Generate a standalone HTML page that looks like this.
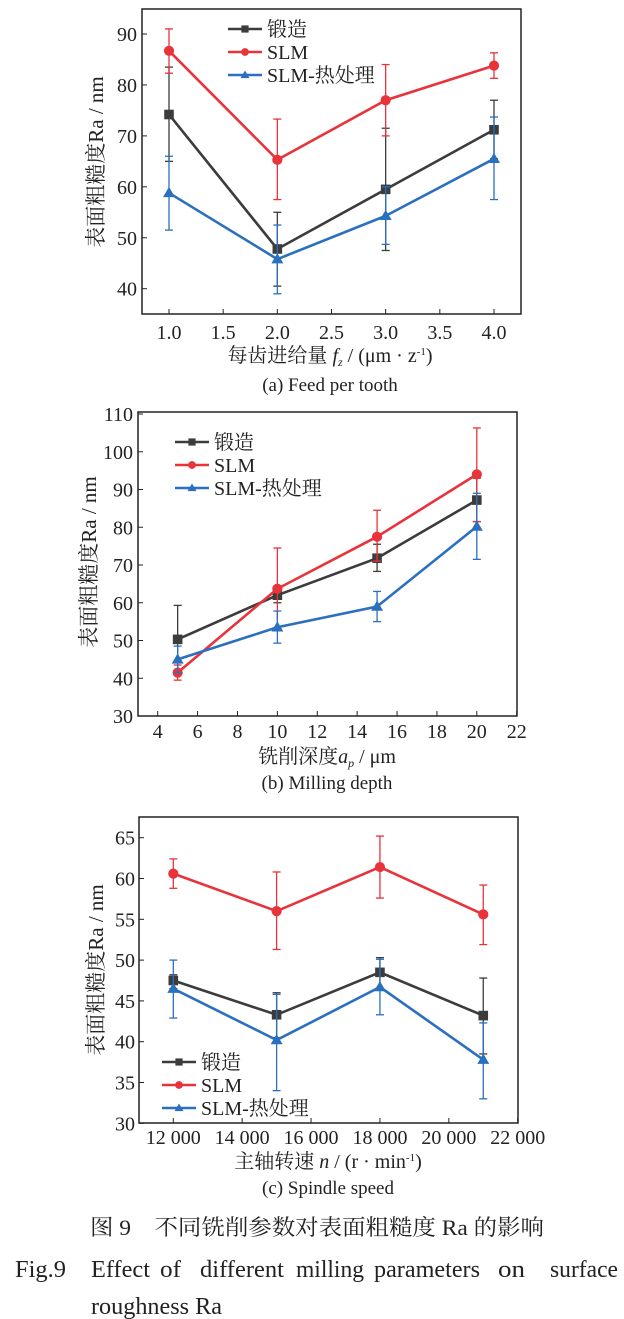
<!DOCTYPE html>
<html><head><meta charset="utf-8"><style>
body{margin:0;background:#fff;width:624px;height:1319px;overflow:hidden}
svg{display:block}
text{font-family:"Liberation Serif","Noto Serif CJK SC",serif;fill:#222}
</style></head><body>
<svg id="s" width="624" height="1319" xmlns="http://www.w3.org/2000/svg"></svg>
<script>
const S=document.getElementById('s');let h='';
const C={k:'#3c3c3c',r:'#e8333b',b:'#2b6fbf'};
function chart(o){
 const X=v=>o.x0+(v-o.xa)*(o.x1-o.x0)/(o.xb-o.xa), Y=v=>o.y0+(v-o.ya)*(o.y1-o.y0)/(o.yb-o.ya);
 h+=`<rect x="${o.L}" y="${o.T}" width="${o.R-o.L}" height="${o.B-o.T}" fill="none" stroke="#222" stroke-width="1.5"/>`;
 o.yt.forEach(v=>{const y=Y(v);h+=`<line x1="${o.L}" x2="${o.L+5}" y1="${y}" y2="${y}" stroke="#222"/><text x="${o.ylx}" y="${y+7}" font-size="20" text-anchor="end">${v}</text>`});
 o.xt.forEach((v,i)=>{const x=X(v);h+=`<line x1="${x}" x2="${x}" y1="${o.B}" y2="${o.B-5}" stroke="#222"/><text x="${x}" y="${o.xly}" font-size="20" text-anchor="middle">${o.xf?o.xf(v):v}</text>`});
 h+=`<text transform="translate(${o.ylabx},${o.ylaby}) rotate(-90)" font-size="21" text-anchor="middle">表面粗糙度Ra / nm</text>`;
 h+=`<text x="${o.xlabx}" y="${o.xlaby}" font-size="20" text-anchor="middle">${o.xlab}</text>`;
 h+=`<text x="${o.xlabx}" y="${o.capy}" font-size="19" text-anchor="middle">${o.cap}</text>`;
 ['k','r','b'].forEach(s=>{const d=o.d[s];let p='';d.forEach((q,i)=>{const x=X(o.xs[i]);p+=(i?'L':'M')+x+' '+Y(q[0]);
   h+=`<g stroke="${C[s]}" stroke-width="1.3"><line x1="${x}" x2="${x}" y1="${Y(q[1])}" y2="${Y(q[2])}"/><line x1="${x-4}" x2="${x+4}" y1="${Y(q[1])}" y2="${Y(q[1])}"/><line x1="${x-4}" x2="${x+4}" y1="${Y(q[2])}" y2="${Y(q[2])}"/></g>`;});
  h+=`<path d="${p}" fill="none" stroke="${C[s]}" stroke-width="2.6"/>`;
  d.forEach((q,i)=>h+=mk(s,X(o.xs[i]),Y(q[0]),6));});
 const names=['锻造','SLM','SLM-热处理'];
 ['k','r','b'].forEach((s,i)=>{const y=o.lg[2]+i*23;h+=`<line x1="${o.lg[0]}" x2="${o.lg[1]}" y1="${y}" y2="${y}" stroke="${C[s]}" stroke-width="2.6"/>`+mk(s,(o.lg[0]+o.lg[1])/2,y,4.5)+`<text x="${o.lg[1]+5}" y="${y+7}" font-size="20">${names[i]}</text>`});
}
function mk(s,x,y,r){if(s=='k')return `<rect x="${x-r*0.8}" y="${y-r*0.8}" width="${r*1.6}" height="${r*1.6}" fill="${C.k}"/>`;
 if(s=='r')return `<circle cx="${x}" cy="${y}" r="${r*0.85}" fill="${C.r}"/>`;
 return `<path d="M${x} ${y-r} L${x+r} ${y+r*0.7} L${x-r} ${y+r*0.7}Z" fill="${C.b}"/>`;}
chart({L:142,R:521,T:9,B:314,x0:169,x1:494,xa:1,xb:4,y0:34,y1:288.7,ya:90,yb:40,
 yt:[40,50,60,70,80,90],xt:[1,1.5,2,2.5,3,3.5,4],xf:v=>v.toFixed(1),ylx:137,xly:339,
 ylabx:103,ylaby:162,xlabx:330,xlaby:362,capy:391,xlab:'每齿进给量 <tspan font-style="italic">f</tspan><tspan font-size="12" dy="4" font-style="italic">z</tspan><tspan dy="-4"> / (μm · z</tspan><tspan font-size="11" dy="-7">-1</tspan><tspan dy="7">)</tspan>',cap:'(a) Feed per tooth',
 xs:[1,2,3,4],lg:[228,262,29],
 d:{k:[[74.2,65,83.5],[47.8,40.5,55],[59.5,47.5,71.5],[71.2,65.5,77]],
    r:[[86.7,82.3,91],[65.3,57.5,73.3],[77,70,84],[83.8,81.3,86.3]],
    b:[[58.8,51.5,66],[45.8,39,52.5],[54.3,48.7,60],[65.5,57.5,73.7]]}});
chart({L:138,R:517,T:412,B:716,x0:157.7,x1:516.7,xa:4,xb:22,y0:414,y1:716,ya:110,yb:30,
 yt:[30,40,50,60,70,80,90,100,110],xt:[4,6,8,10,12,14,16,18,20,22],ylx:133,xly:738,
 ylabx:96,ylaby:562,xlabx:327,xlaby:763,capy:789,xlab:'铣削深度<tspan font-style="italic">a</tspan><tspan font-size="12" dy="4" font-style="italic">p</tspan><tspan dy="-4"> / μm</tspan>',cap:'(b) Milling depth',
 xs:[5,10,15,20],lg:[175,209,442],
 d:{k:[[50.3,42,59.3],[62,60,64],[71.8,68.3,75.5],[87.2,81.5,93]],
    r:[[41.5,39.5,43.5],[63.7,53,74.5],[77.5,71,84.5],[94,81.5,106.3]],
    b:[[45,41.5,48.5],[53.5,49.3,57.8],[59,55,63],[80.2,71.5,89]]}});
chart({L:139,R:518,T:817,B:1123,x0:173.3,x1:517.7,xa:12000,xb:22000,y0:837.7,y1:1123.3,ya:65,yb:30,
 yt:[30,35,40,45,50,55,60,65],xt:[12000,14000,16000,18000,20000,22000],xf:v=>(v/1000)+' 000',ylx:135,xly:1144,
 ylabx:103,ylaby:970,xlabx:328,xlaby:1168,capy:1194,xlab:'主轴转速 <tspan font-style="italic">n</tspan> / (r · min<tspan font-size="11" dy="-7">-1</tspan><tspan dy="7">)</tspan>',cap:'(c) Spindle speed',
 xs:[12000,15000,18000,21000],lg:[162,196,1062],
 d:{k:[[47.5,46.5,48.2],[43.3,40.5,46],[48.5,46.5,50.3],[43.2,38.5,47.8]],
    r:[[60.6,58.8,62.4],[56,51.3,60.8],[61.4,57.6,65.2],[55.6,51.9,59.2]],
    b:[[46.5,42.9,50],[40.2,34,45.8],[46.7,43.3,50.1],[37.8,33,42.3]]}});
h+=`<text x="90" y="1235" font-size="22" textLength="454" lengthAdjust="spacingAndGlyphs">图 9　不同铣削参数对表面粗糙度 Ra 的影响</text>`;
[['Fig.9',15,51],['Effect',91,59],['of',160,21],['different',200,84],['milling',296,68],['parameters',374,106],['on',498,27],['surface',550,68]].forEach(w=>h+=`<text x="${w[1]}" y="1277" font-size="24" textLength="${w[2]}" lengthAdjust="spacingAndGlyphs">${w[0]}</text>`);
h+=`<text x="91" y="1314" font-size="24" textLength="131" lengthAdjust="spacingAndGlyphs">roughness Ra</text>`;
S.innerHTML=h;
</script>
</body></html>
